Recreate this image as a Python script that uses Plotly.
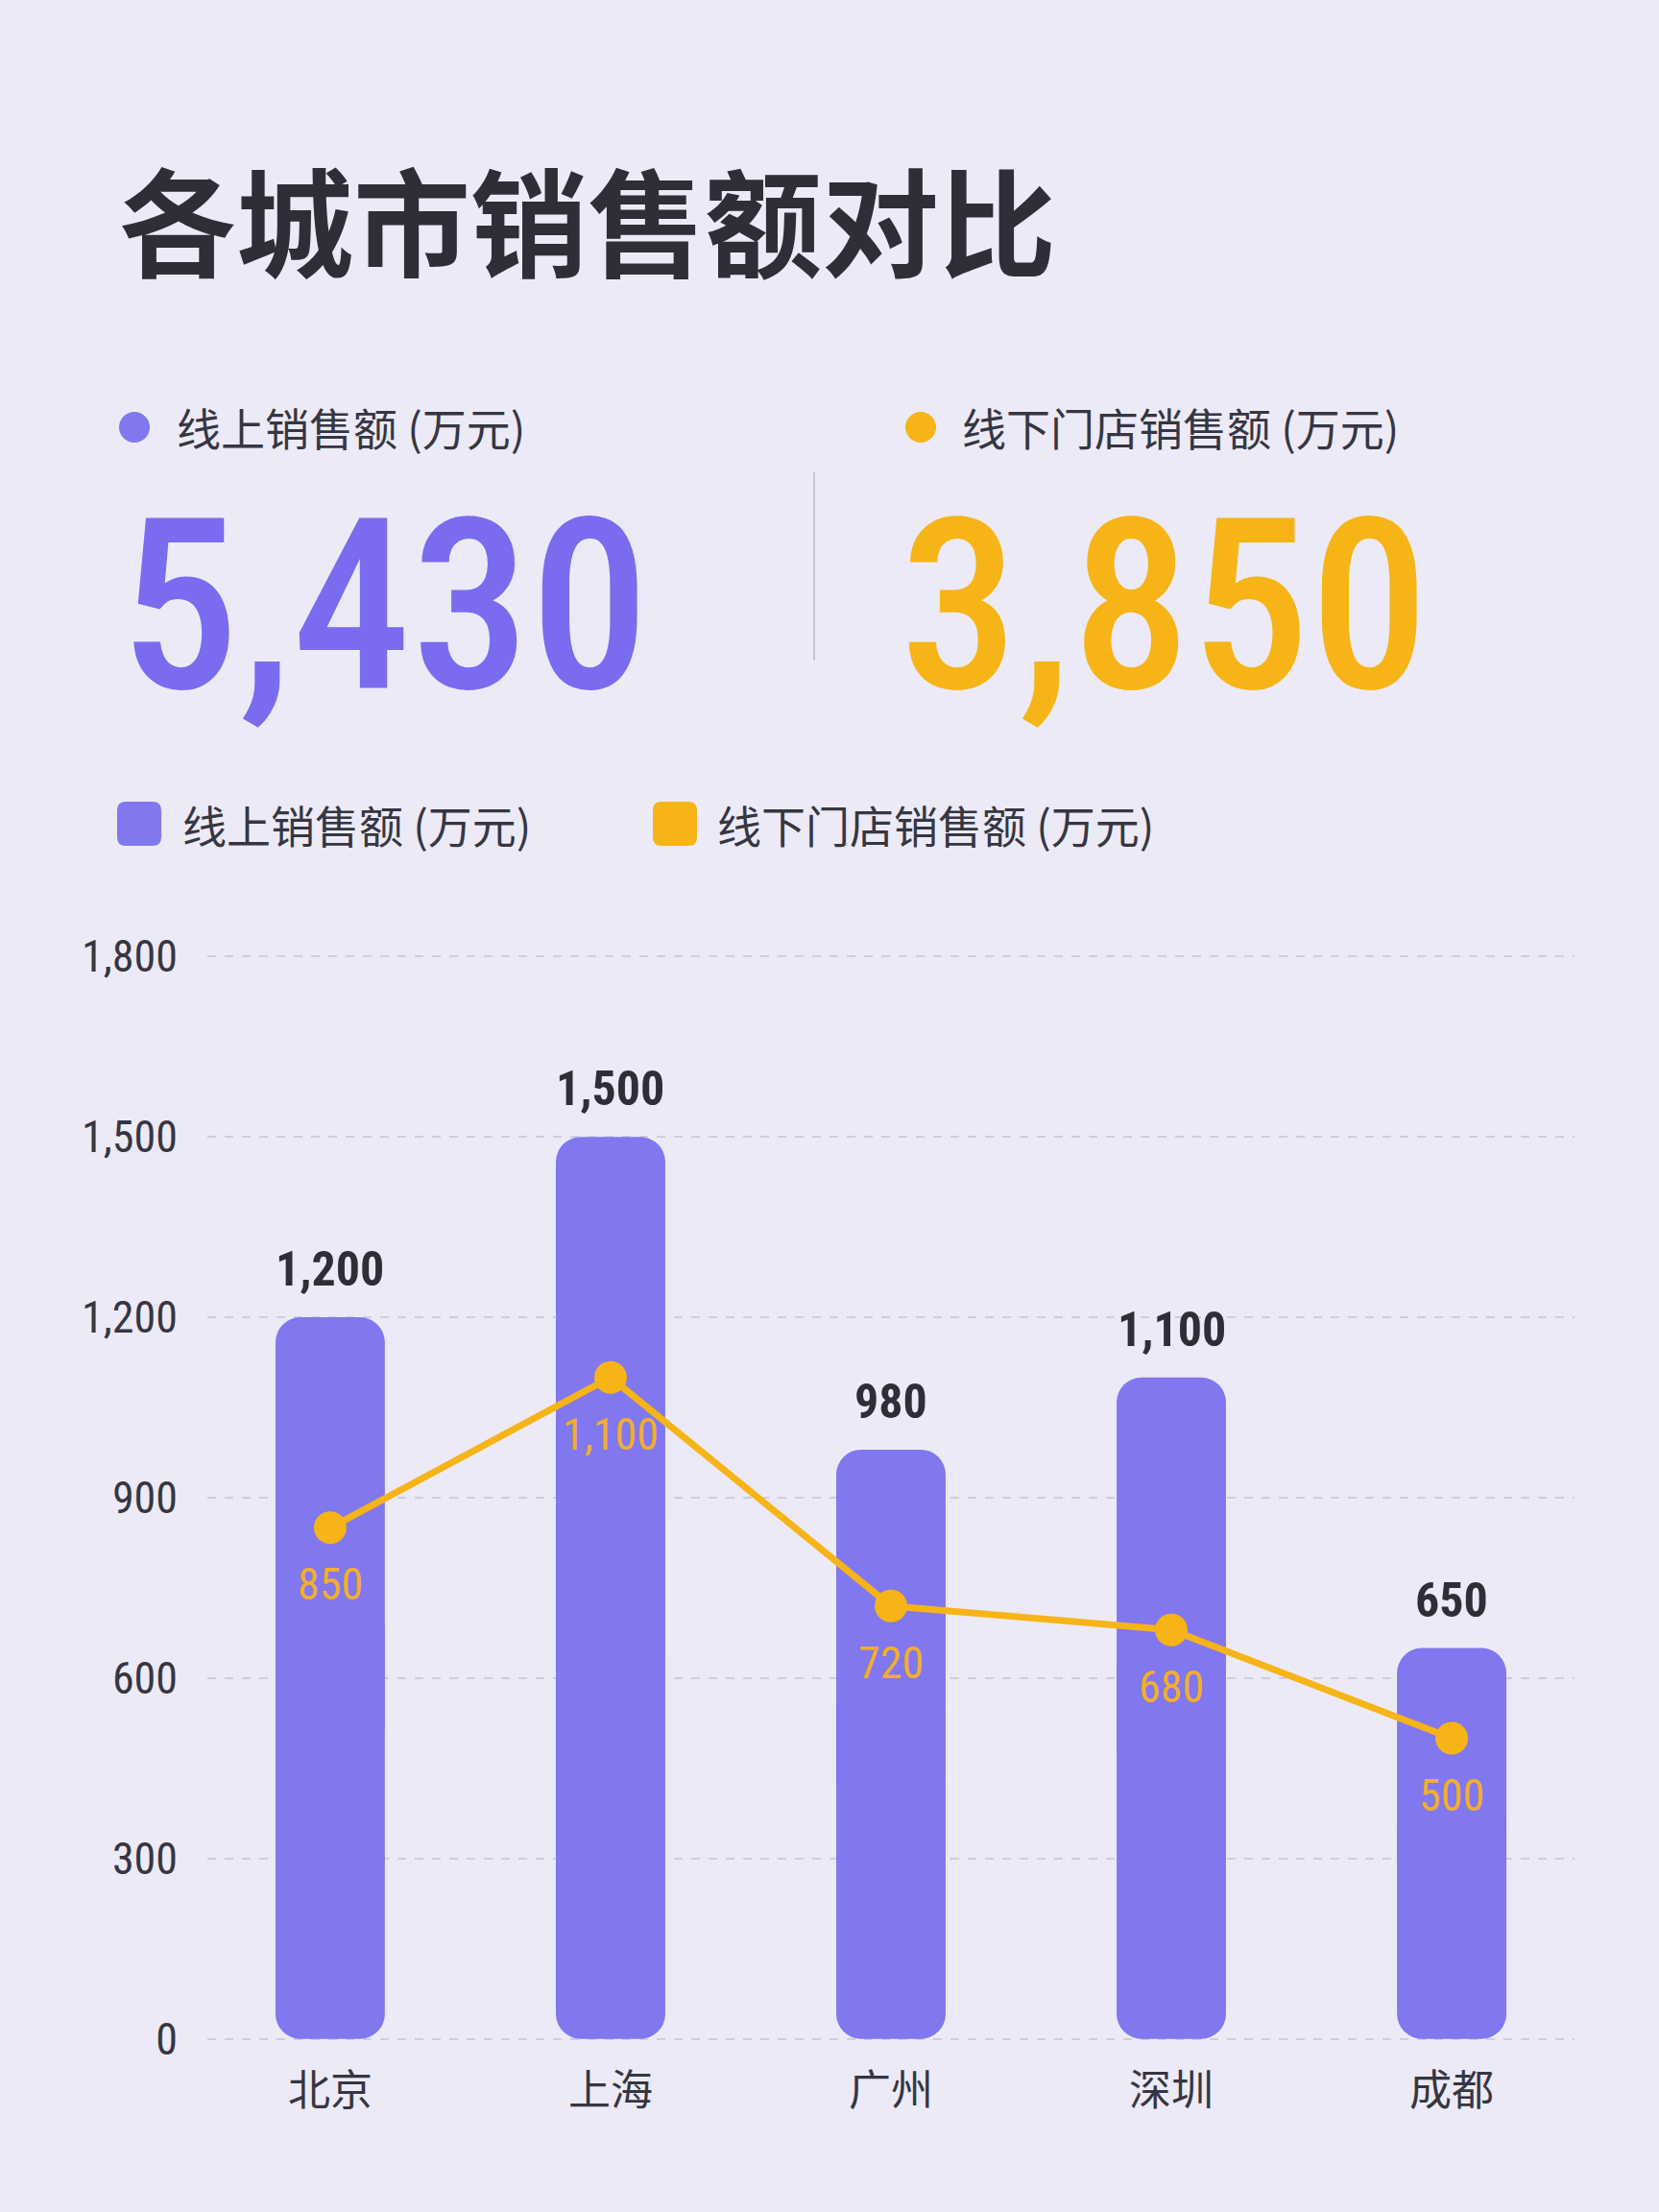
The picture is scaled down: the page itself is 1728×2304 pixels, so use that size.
import plotly.graph_objects as go

# ---------------- data ----------------
cities = ["北京", "上海", "广州", "深圳", "成都"]
online = [1200, 1500, 980, 1100, 650]
offline = [850, 1100, 720, 680, 500]
y_ticks = [0, 300, 600, 900, 1200, 1500, 1800]
y_tick_labels = ["0", "300", "600", "900", "1,200", "1,500", "1,800"]
series_names = ["线上销售额 (万元)", "线下门店销售额 (万元)"]
title_text = "各城市销售额对比"

# ---------------- style ----------------
W, H = 1728, 2304
BG = "#ECEAF6"
PURPLE = "#8177EE"
PURPLE_BIG = "#7A6BEF"
ORANGE = "#F6B417"
ORANGE_LBL = "#F2AE2C"
DARK = "#2E2E38"
TEXT = "#363642"
GRID = "#CFCDDB"
NUM_FONT = "Roboto Condensed, Roboto, sans-serif"
CJK_FONT = "Noto Sans CJK SC, sans-serif"

def px(x):
    return x / W

def py(y):
    return 1 - y / H

PLOT_L, PLOT_R, PLOT_T, PLOT_B = 216, 1640, 990, 2130

fig = go.Figure()

# bars drawn as two overlapping halves so both ends are rounded
BAR_W = 0.39
fig.add_trace(go.Bar(
    x=cities, y=[v * 0.6 for v in online], base=[v * 0.4 for v in online],
    width=BAR_W, marker=dict(color=PURPLE, line=dict(width=0), cornerradius=26),
    showlegend=False, hoverinfo="skip"))
fig.add_trace(go.Bar(
    x=cities, y=[-v * 0.6 for v in online], base=[v * 0.6 for v in online],
    width=BAR_W, marker=dict(color=PURPLE, line=dict(width=0), cornerradius=26),
    name=series_names[0], showlegend=False))

fig.add_trace(go.Scatter(
    x=cities, y=offline, mode="lines+markers",
    line=dict(color=ORANGE, width=7),
    marker=dict(color=ORANGE, size=34),
    name=series_names[1], showlegend=False))

annotations = []
for c, v in zip(cities, online):
    annotations.append(dict(
        x=c, y=v, xref="x", yref="y", text=f"{v:,}", showarrow=False,
        yshift=50, yanchor="middle",
        font=dict(family=NUM_FONT, size=50, color=DARK, weight="bold")))
for c, v in zip(cities, offline):
    annotations.append(dict(
        x=c, y=v, xref="x", yref="y", text=f"{v:,}", showarrow=False,
        yshift=-59, yanchor="middle",
        font=dict(family=NUM_FONT, size=46, color=ORANGE_LBL)))

# title
annotations.append(dict(
    x=px(122), y=py(225), xref="paper", yref="paper", xanchor="left", yanchor="middle",
    text=title_text, showarrow=False,
    font=dict(family=CJK_FONT, size=122, color=DARK, weight="bold")))

# KPI labels
annotations.append(dict(
    x=px(182), y=py(444), xref="paper", yref="paper", xanchor="left", yanchor="middle",
    text=series_names[0], showarrow=False,
    font=dict(family=CJK_FONT, size=46, color=TEXT)))
annotations.append(dict(
    x=px(1000), y=py(444), xref="paper", yref="paper", xanchor="left", yanchor="middle",
    text=series_names[1], showarrow=False,
    font=dict(family=CJK_FONT, size=46, color=TEXT)))

# KPI totals
annotations.append(dict(
    x=px(123), y=py(632), xref="paper", yref="paper", xanchor="left", yanchor="middle",
    text=f"{sum(online):,}", showarrow=False,
    font=dict(family=NUM_FONT, size=248, color=PURPLE_BIG, weight=500)))
annotations.append(dict(
    x=px(935), y=py(632), xref="paper", yref="paper", xanchor="left", yanchor="middle",
    text=f"{sum(offline):,}", showarrow=False,
    font=dict(family=NUM_FONT, size=248, color=ORANGE, weight=500)))

# legend texts
annotations.append(dict(
    x=px(188), y=py(858), xref="paper", yref="paper", xanchor="left", yanchor="middle",
    text=series_names[0], showarrow=False,
    font=dict(family=CJK_FONT, size=46, color=TEXT)))
annotations.append(dict(
    x=px(745), y=py(858), xref="paper", yref="paper", xanchor="left", yanchor="middle",
    text=series_names[1], showarrow=False,
    font=dict(family=CJK_FONT, size=46, color=TEXT)))


def rrect(cx, cy, s, r):
    x0, x1, y0, y1 = cx - s / 2, cx + s / 2, cy - s / 2, cy + s / 2
    pts = [
        ("M", [(x0 + r, y0)]), ("L", [(x1 - r, y0)]), ("Q", [(x1, y0), (x1, y0 + r)]),
        ("L", [(x1, y1 - r)]), ("Q", [(x1, y1), (x1 - r, y1)]),
        ("L", [(x0 + r, y1)]), ("Q", [(x0, y1), (x0, y1 - r)]),
        ("L", [(x0, y0 + r)]), ("Q", [(x0, y0), (x0 + r, y0)]),
    ]
    s_ = ""
    for cmd, ps in pts:
        s_ += cmd + " " + " ".join(f"{px(a):.5f},{py(b):.5f}" for a, b in ps) + " "
    return s_ + "Z"


shapes = [
    # KPI dots
    dict(type="circle", xref="paper", yref="paper", x0=px(124), x1=px(156),
         y0=py(461), y1=py(429), fillcolor=PURPLE, line=dict(width=0)),
    dict(type="circle", xref="paper", yref="paper", x0=px(943), x1=px(975),
         y0=py(461), y1=py(429), fillcolor=ORANGE, line=dict(width=0)),
    # separator
    dict(type="line", xref="paper", yref="paper", x0=px(848), x1=px(848),
         y0=py(492), y1=py(688), line=dict(color="#C9C6D4", width=2)),
    # legend squares
    dict(type="path", xref="paper", yref="paper", path=rrect(145, 858, 46, 9),
         fillcolor=PURPLE, line=dict(width=0)),
    dict(type="path", xref="paper", yref="paper", path=rrect(703, 858, 46, 9),
         fillcolor=ORANGE, line=dict(width=0)),
]

fig.update_layout(
    width=W, height=H,
    paper_bgcolor=BG, plot_bgcolor=BG,
    margin=dict(l=0, r=0, t=0, b=0, pad=0, autoexpand=False),
    barmode="overlay",
    showlegend=False,
    annotations=annotations,
    shapes=shapes,
    xaxis=dict(
        domain=[px(PLOT_L), px(PLOT_R)],
        type="category", range=[-0.438, 4.438],
        showgrid=False, zeroline=False, showline=False, ticks="",
        automargin=False,
        tickfont=dict(family=CJK_FONT, size=44, color=TEXT),
        ticklabelstandoff=18,
    ),
    yaxis=dict(
        domain=[py(PLOT_B), py(PLOT_T)],
        range=[-10, 1810],
        tickvals=y_ticks, ticktext=y_tick_labels,
        showgrid=True, gridcolor=GRID, griddash="dash", gridwidth=2,
        zeroline=False, showline=False, ticks="",
        automargin=False,
        tickfont=dict(family=NUM_FONT, size=46, color=TEXT),
        ticklabelstandoff=30,
    ),
)

fig.write_html(
    "out.html",
    config={"displayModeBar": False},
    post_script="document.body.style.margin='0';document.body.style.background='%s';" % BG,
)
